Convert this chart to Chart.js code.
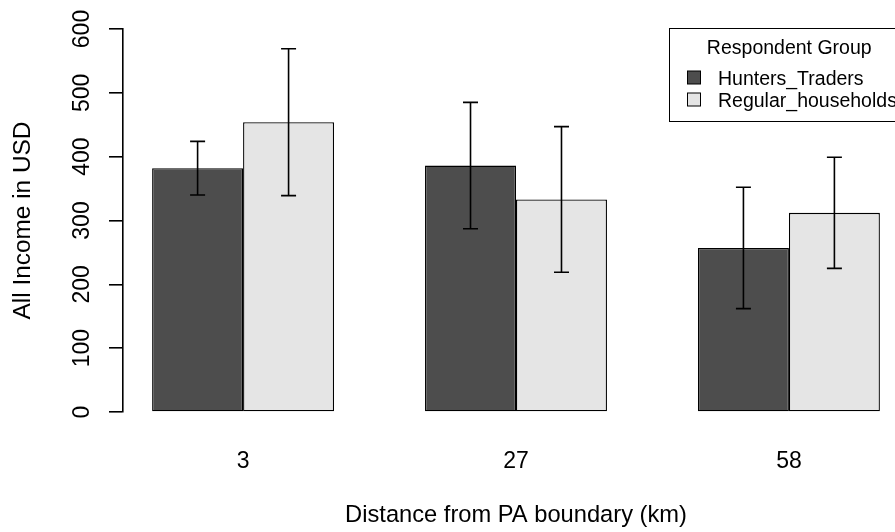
<!DOCTYPE html>
<html>
<head>
<meta charset="utf-8">
<script src="https://cdn.jsdelivr.net/npm/chart.js@4.4.1/dist/chart.umd.min.js"></script>
<style>
    html, body { margin: 0; padding: 0; overflow: hidden; background: #fff; }
    #wrap { width: 909px; height: 532px; }
</style>
</head>
<body>
<div id="wrap"><canvas id="chart" width="909" height="532"></canvas></div>
<script>
// values
const distances = ['3', '27', '58'];
const groupNames = ['Hunters_Traders', 'Regular_households'];
const huntersIncome = [382, 386, 257];
const regularIncome = [454, 333, 312];
const huntersErr = [42, 99, 95];
const regularErr = [115, 114, 87];
const yTicks = [0, 100, 200, 300, 400, 500, 600];

const FONT = "'Liberation Sans', Arial, sans-serif";

// R-style barplot: each group centred at 2, 5, 8 on a 0.68..9.32 axis
const groupPos = distances.map((d, i) => 2 + 3 * i);

function toPoints(values) {
    return values.map((v, i) => ({ x: groupPos[i], y: v }));
}

// error bars drawn over the bars
const errorBars = {
    id: 'errorBars',
    afterDatasetsDraw(chart) {
        const ctx = chart.ctx;
        const y = chart.scales.y;
        const errs = [huntersErr, regularErr];
        ctx.save();
        ctx.strokeStyle = '#000';
        ctx.lineWidth = 1.6;
        chart.data.datasets.forEach((ds, di) => {
            const meta = chart.getDatasetMeta(di);
            meta.data.forEach((bar, i) => {
                const v = ds.data[i].y;
                const e = errs[di][i];
                const top = y.getPixelForValue(v + e);
                const bot = y.getPixelForValue(v - e);
                ctx.beginPath();
                ctx.moveTo(bar.x, top);
                ctx.lineTo(bar.x, bot);
                ctx.moveTo(bar.x - 7.5, top);
                ctx.lineTo(bar.x + 7.5, top);
                ctx.moveTo(bar.x - 7.5, bot);
                ctx.lineTo(bar.x + 7.5, bot);
                ctx.stroke();
            });
        });
        ctx.restore();
    }
};

// rotated y tick labels and the boxed legend, like base R
const rStyle = {
    id: 'rStyle',
    afterDraw(chart) {
        const ctx = chart.ctx;
        const y = chart.scales.y;
        ctx.save();
        ctx.fillStyle = '#000';
        ctx.font = '23px ' + FONT;
        ctx.textAlign = 'center';
        ctx.textBaseline = 'alphabetic';
        yTicks.forEach(t => {
            ctx.save();
            ctx.translate(89, y.getPixelForValue(t));
            ctx.rotate(-Math.PI / 2);
            ctx.fillText(String(t), 0, 0);
            ctx.restore();
        });

        // legend box (runs off the right edge)
        const boxL = 669.5, boxT = 28.5, boxR = chart.chartArea.right, boxB = 121.5;
        ctx.strokeStyle = '#000';
        ctx.lineWidth = 1;
        ctx.strokeRect(boxL, boxT, boxR - boxL, boxB - boxT);
        ctx.font = '19.5px ' + FONT;
        ctx.textAlign = 'center';
        ctx.fillText('Respondent Group', (boxL + boxR) / 2, 54);
        ctx.textAlign = 'left';
        chart.data.datasets.forEach((ds, i) => {
            const base = 85 + i * 22;
            ctx.fillStyle = ds.backgroundColor;
            ctx.fillRect(687.5, base - 14, 13, 13);
            ctx.strokeStyle = '#000';
            ctx.strokeRect(687.5, base - 14, 13, 13);
            ctx.fillStyle = '#000';
            ctx.fillText(ds.label, 718, base);
        });
        ctx.restore();
    }
};

new Chart(document.getElementById('chart'), {
    type: 'bar',
    data: {
        datasets: [{
            label: groupNames[0],
            data: toPoints(huntersIncome),
            backgroundColor: '#4d4d4d',
            borderColor: '#000',
            borderWidth: 1.3,
            borderSkipped: false,
            barPercentage: 1,
            categoryPercentage: 2 / 3
        }, {
            label: groupNames[1],
            data: toPoints(regularIncome),
            backgroundColor: '#e5e5e5',
            borderColor: '#000',
            borderWidth: 1.3,
            borderSkipped: false,
            barPercentage: 1,
            categoryPercentage: 2 / 3
        }]
    },
    options: {
        responsive: false,
        animation: false,
        layout: { padding: { top: 29, left: 0, right: 0, bottom: 0 } },
        plugins: {
            legend: { display: false },
            tooltip: { enabled: false }
        },
        scales: {
            x: {
                type: 'linear',
                offset: false,
                min: 0.68,
                max: 9.32,
                afterBuildTicks: (axis) => {
                    axis.ticks = groupPos.map(v => ({ value: v }));
                },
                afterFit: (axis) => { axis.height = 120; },
                grid: { display: false, offset: false },
                border: { display: false },
                ticks: {
                    padding: 28,
                    color: '#000',
                    font: { family: FONT, size: 23 },
                    maxRotation: 0,
                    callback: (v, i) => distances[i]
                },
                title: {
                    display: true,
                    text: 'Distance from PA boundary (km)',
                    color: '#000',
                    font: { family: FONT, size: 23.7 },
                    padding: { top: 0, bottom: 2 }
                }
            },
            y: {
                min: 0,
                max: 600,
                afterBuildTicks: (axis) => {
                    axis.ticks = yTicks.map(v => ({ value: v }));
                },
                afterFit: (axis) => { axis.width = 123; },
                grid: {
                    drawOnChartArea: false,
                    drawTicks: true,
                    tickLength: 14,
                    color: '#000',
                    lineWidth: 1.6
                },
                border: { display: true, color: '#000', width: 1.6 },
                ticks: { display: false },
                title: {
                    display: true,
                    text: 'All Income in USD',
                    color: '#000',
                    font: { family: FONT, size: 24.4 },
                    padding: { top: 9, bottom: 0 }
                }
            }
        }
    },
    plugins: [errorBars, rStyle]
});
</script>
</body>
</html>
